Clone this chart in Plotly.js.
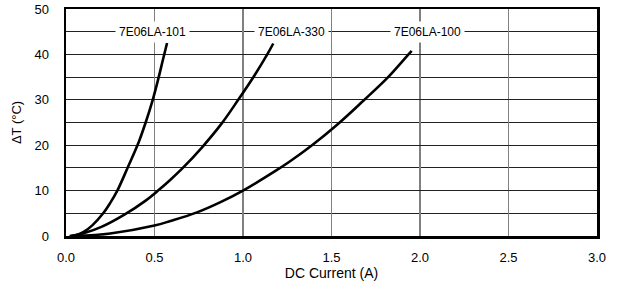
<!DOCTYPE html>
<html>
<head>
<meta charset="utf-8">
<script src="https://cdn.plot.ly/plotly-3.0.1.min.js"></script>
<style>html,body{margin:0;padding:0;background:#fff}#chart{width:619px;height:285px}</style>
</head>
<body>
<div id="chart"></div>
<script>
const seriesNames = ["7E06LA-101", "7E06LA-330", "7E06LA-100"];

const x101 = [0.02, 0.06, 0.10, 0.15, 0.21, 0.25, 0.29, 0.35, 0.41, 0.45, 0.49, 0.52, 0.55, 0.571];
const y101 = [0, 0.2, 0.9, 2.4, 5, 7.3, 10, 15.2, 20.6, 25, 30, 34.4, 39.2, 42.5];

const x330 = [0.03, 0.10, 0.20, 0.33, 0.45, 0.52, 0.59, 0.66, 0.77, 0.88, 0.973, 1.062, 1.137, 1.171];
const y330 = [0, 0.6, 2.0, 4.7, 7.8, 10, 12.4, 15, 19.6, 24.8, 30, 35.2, 40, 42.4];

const x100 = [0.05, 0.25, 0.50, 0.59, 0.74, 0.87, 1.00, 1.19, 1.26, 1.39, 1.54, 1.68, 1.81, 1.93, 1.953];
const y100 = [0, 0.55, 2.3, 3.3, 5.2, 7.4, 10, 14.5, 16.3, 20, 24.8, 29.8, 34.6, 39.8, 40.8];

const labelX = [0.49, 1.275, 2.045];
const labelY = 45;

const xTicks = [0, 0.5, 1.0, 1.5, 2.0, 2.5, 3.0];
const xTickText = ["0.0", "0.5", "1.0", "1.5", "2.0", "2.5", "3.0"];
const yTicks = [0, 10, 20, 30, 40, 50];

const font = "Liberation Sans, Arial, sans-serif";
const lineStyle = {color: "#000", width: 2.6, shape: "spline", smoothing: 1.0};

const traces = [
  {x: x101, y: y101, mode: "lines", line: lineStyle, name: seriesNames[0], hoverinfo: "skip"},
  {x: x330, y: y330, mode: "lines", line: lineStyle, name: seriesNames[1], hoverinfo: "skip"},
  {x: x100, y: y100, mode: "lines", line: lineStyle, name: seriesNames[2], hoverinfo: "skip"}
];

const annotations = seriesNames.map((n, i) => ({
  x: labelX[i], y: labelY, xref: "x", yref: "y", text: n, showarrow: false,
  bgcolor: "#fff", borderpad: 3, font: {family: font, size: 12, color: "#000"}
}));

const layout = {
  width: 619, height: 285,
  margin: {l: 66, r: 22, t: 9, b: 49},
  paper_bgcolor: "#fff", plot_bgcolor: "#fff",
  showlegend: false,
  font: {family: font, size: 13, color: "#000"},
  xaxis: {
    range: [0, 3], tickvals: xTicks, ticktext: xTickText,
    showgrid: true, gridcolor: "#808080", gridwidth: 1.5,
    zeroline: false, showline: true, mirror: true, linecolor: "#000", linewidth: 2.5,
    ticks: "", ticklabelstandoff: 8,
    title: {text: "DC Current (A)", font: {family: font, size: 14}, standoff: 3}
  },
  yaxis: {
    range: [0, 50], tickvals: yTicks,
    showgrid: true, gridcolor: "#222", gridwidth: 1,
    minor: {dtick: 5, showgrid: true, gridcolor: "#222", gridwidth: 1},
    zeroline: false, showline: true, mirror: true, linecolor: "#000", linewidth: 2.5,
    ticks: "", ticklabelstandoff: 12,
    title: {text: "ΔT (°C)", font: {family: font, size: 13}, standoff: 10}
  },
  annotations: annotations
};

Plotly.newPlot("chart", traces, layout, {staticPlot: true, displayModeBar: false});
</script>
</body>
</html>
